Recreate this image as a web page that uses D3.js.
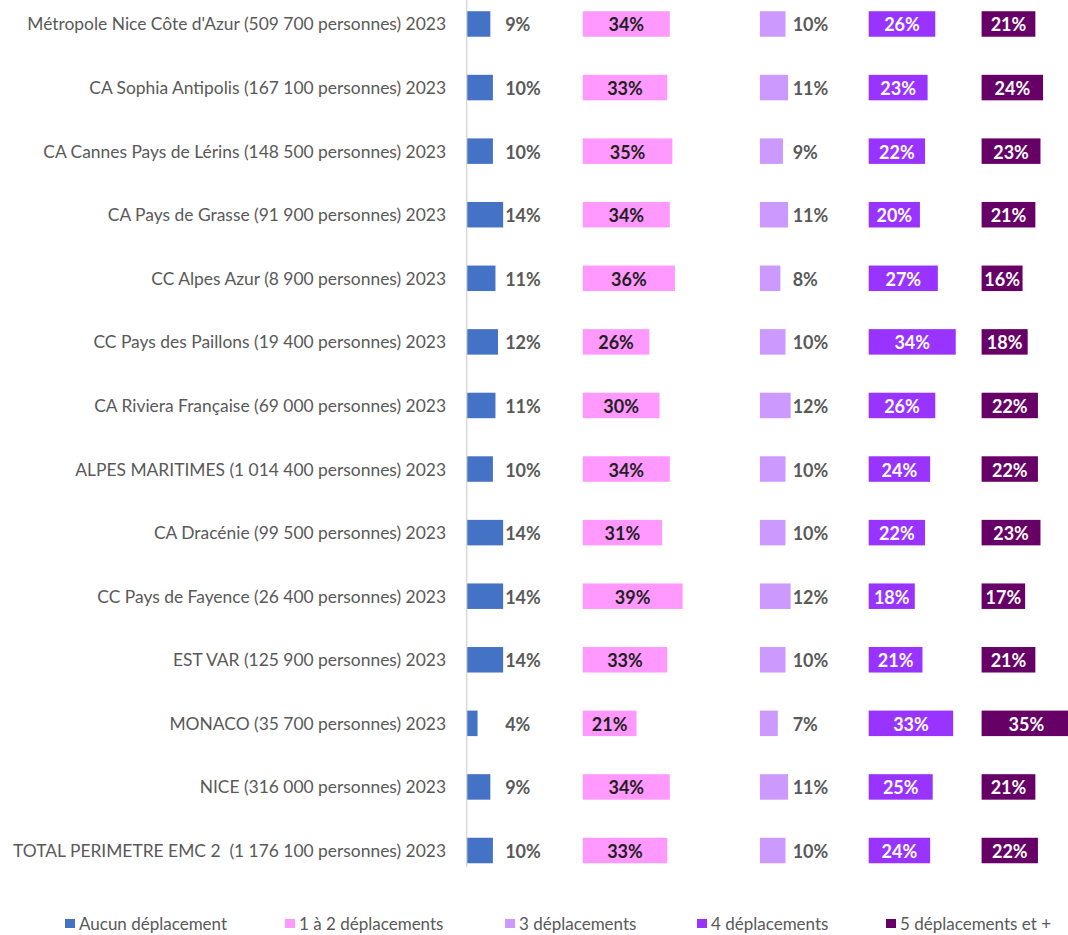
<!DOCTYPE html>
<html><head><meta charset="utf-8">
<script src="https://cdn.jsdelivr.net/npm/d3@7"></script>
<style>
html,body{margin:0;padding:0;background:#fff;overflow:hidden;}
svg{display:block;}
text{white-space:pre;}
</style></head>
<body>
<script>
const categories = [
  "Métropole Nice Côte d'Azur (509 700 personnes) 2023",
  "CA Sophia Antipolis (167 100 personnes) 2023",
  "CA Cannes Pays de Lérins (148 500 personnes) 2023",
  "CA Pays de Grasse (91 900 personnes) 2023",
  "CC Alpes Azur (8 900 personnes) 2023",
  "CC Pays des Paillons (19 400 personnes) 2023",
  "CA Riviera Française (69 000 personnes) 2023",
  "ALPES MARITIMES (1 014 400 personnes) 2023",
  "CA Dracénie (99 500 personnes) 2023",
  "CC Pays de Fayence (26 400 personnes) 2023",
  "EST VAR (125 900 personnes) 2023",
  "MONACO (35 700 personnes) 2023",
  "NICE (316 000 personnes) 2023",
  "TOTAL PERIMETRE EMC 2  (1 176 100 personnes) 2023"
];
const seriesNames = ["Aucun déplacement","1 à 2 déplacements","3 déplacements","4 déplacements","5 déplacements et +"];
const aucun   = [9,10,10,14,11,12,11,10,14,14,14,4,9,10];
const un_deux = [34,33,35,34,36,26,30,34,31,39,33,21,34,33];
const trois   = [10,11,9,11,8,10,12,10,10,12,10,7,11,10];
const quatre  = [26,23,22,20,27,34,26,24,22,18,21,33,25,24];
const cinqPlus= [21,24,23,21,16,18,22,22,23,17,21,35,21,22];
const series = [aucun, un_deux, trois, quatre, cinqPlus];

const colors = ["#4472C4","#FF99FF","#CC99FF","#9933FF","#660066"];
const labelColors = ["#595959","#1f1f1f","#595959","#ffffff","#ffffff"];
const labelOutside = [true,false,true,false,false];

const W = 1068, H = 935;
const FONT = "Lato, 'Open Sans', sans-serif";
const svg = d3.select("body").append("svg").attr("width", W).attr("height", H);

// layout
const axisX = 467.3;
const panelOffsets = [0, 45.1, 114.3, 156.8, 200.9]; // in % units
const legendX = [65, 285, 505, 697, 886];
const x = d3.scaleLinear().domain([0, 240]).range([axisX, axisX + 240 * 2.56]);
const w = v => x(v) - x(0);

const pad = 0.599;
const y = d3.scaleBand().domain(categories).range([-7.8, 882.3]).paddingInner(pad).paddingOuter(pad / 2);

// category labels (auto-fit width)
const catT = svg.append("g").selectAll("text").data(categories).join("text")
  .attr("x", 446).attr("y", d => y(d) + y.bandwidth()/2)
  .attr("text-anchor", "end").attr("dominant-baseline", "central")
  .attr("fill", "#595959").style("font-family", FONT).style("font-size", "16px")
  .text(d => d);
const maxW = d3.max(catT.nodes(), n => n.getComputedTextLength());
catT.style("font-size", (16 * 433 / maxW) + "px");

// axis line
svg.append("line").attr("x1", axisX - 0.5).attr("x2", axisX - 0.5).attr("y1", 0).attr("y2", 867)
  .attr("stroke", "#c8c8c8").attr("stroke-width", 1);

// bars & labels
series.forEach((vals, si) => {
  const g = svg.append("g");
  const x0 = x(panelOffsets[si]);
  const maxV = d3.max(vals);
  g.selectAll("rect").data(vals).join("rect")
    .attr("x", x0).attr("y", (d, i) => y(categories[i]))
    .attr("width", d => w(d)).attr("height", y.bandwidth())
    .attr("fill", colors[si]);
  g.selectAll("text").data(vals).join("text")
    .attr("x", d => labelOutside[si] ? x0 + w(maxV) + 2 : x0 + w(d) / 2)
    .attr("y", (d, i) => y(categories[i]) + y.bandwidth()/2 + 0.5)
    .attr("text-anchor", labelOutside[si] ? "start" : "middle")
    .attr("dominant-baseline", "central")
    .attr("fill", labelColors[si])
    .style("font-family", FONT).style("font-weight", "bold").style("font-size", "18px")
    .text(d => d + "%");
});

// legend
const legY = 923.5;
const lg = svg.append("g");
seriesNames.forEach((name, i) => {
  lg.append("rect").attr("x", legendX[i]).attr("y", legY - 4.5).attr("width", 10).attr("height", 9).attr("fill", colors[i]);
  lg.append("text").attr("x", legendX[i] + 14).attr("y", legY)
    .attr("dominant-baseline", "central").attr("fill", "#595959")
    .style("font-family", FONT).style("font-size", "17px").text(name);
});
</script>
</body></html>
